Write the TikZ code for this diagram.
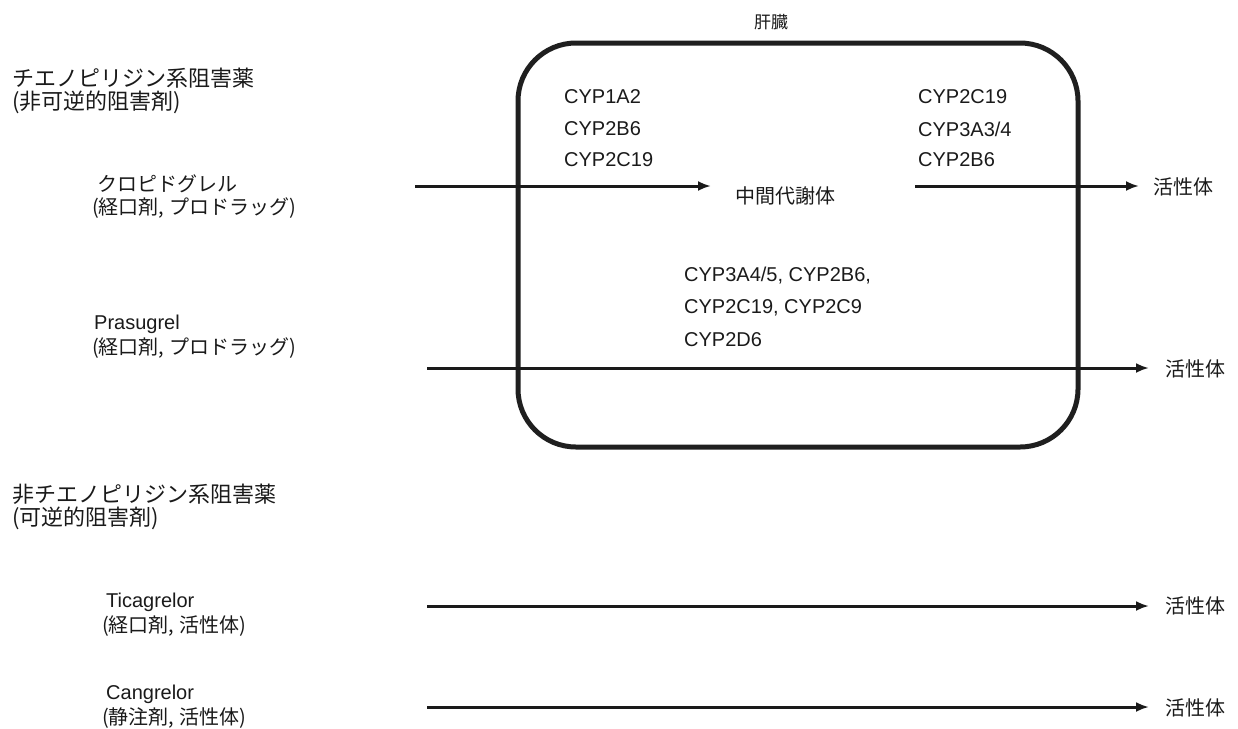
\documentclass[tikz,border=0pt]{standalone}
\usepackage{fontspec}
\setmainfont{Liberation Sans}
\newfontfamily\jpfont{Noto Sans CJK JP}
\usetikzlibrary{arrows.meta}
\definecolor{ink}{HTML}{1A1A1A}
\tikzset{
  lbl/.style={inner sep=0pt, anchor=west, text=ink, font=\jpfont\fontsize{20pt}{24pt}\selectfont},
  head/.style={inner sep=0pt, anchor=west, text=ink, font=\jpfont\fontsize{22pt}{26pt}\selectfont},
  cyp/.style={inner sep=0pt, anchor=west, text=ink, font=\fontsize{20pt}{24pt}\selectfont},
  flow/.style={line width=3pt, draw=ink, -{Latex[length=13pt,width=10pt]}},
  liver/.style={line width=5pt, draw=black!88, rounded corners=58pt}
}
\begin{document}
\begin{tikzpicture}[x=1pt,y=-1pt]
\useasboundingbox (0,0) rectangle (1238,728);
% liver box
\draw[liver] (518,43) rectangle (1078,447);
\node[inner sep=0pt, text=ink, font=\jpfont\fontsize{17pt}{20pt}\selectfont] (liverlbl) at (771,22) {肝臓};
% headings
\node[head] (h1) at (12,78) {チエノピリジン系阻害薬};
\node[head] (h1b) at (12,102) {(非可逆的阻害剤)};
\node[head] (h2) at (12,494) {非チエノピリジン系阻害薬};
\node[head] (h2b) at (12,518) {(可逆的阻害剤)};
% drugs
\node[lbl] (clop) at (97,184) {クロピドグレル};
\node[lbl] (clopb) at (92,208) {(経口剤, プロドラッグ)};
\node[cyp] (pras) at (94,324) {Prasugrel};
\node[lbl] (prasb) at (92,348) {(経口剤, プロドラッグ)};
\node[cyp] (tica) at (106,602) {Ticagrelor};
\node[lbl] (ticab) at (102,626) {(経口剤, 活性体)};
\node[cyp] (cang) at (106,694) {Cangrelor};
\node[lbl] (cangb) at (102,718) {(静注剤, 活性体)};
% CYP labels
\node[cyp] (c1) at (564,97) {CYP1A2};
\node[cyp] (c2) at (564,129) {CYP2B6};
\node[cyp] (c3) at (564,160) {CYP2C19};
\node[cyp] (d1) at (918,97) {CYP2C19};
\node[cyp] (d2) at (918,129) {CYP3A3/4};
\node[cyp] (d3) at (918,160) {CYP2B6};
\node[cyp] (e1) at (684,276) {CYP3A4/5, CYP2B6,};
\node[cyp] (e2) at (684,308) {CYP2C19, CYP2C9};
\node[cyp] (e3) at (684,340) {CYP2D6};
% metabolites
\node[lbl, anchor=center] (mid) at (785,196) {中間代謝体};
\node[lbl] (act1) at (1153,187) {活性体};
\node[lbl] (act2) at (1165,369) {活性体};
\node[lbl] (act3) at (1165,606) {活性体};
\node[lbl] (act4) at (1165,708) {活性体};
% arrow endpoints
\coordinate (s1) at (415,186);
\coordinate (t1) at (711,186);
\coordinate (s2) at (915,186);
\coordinate (s3) at (427,368);
\coordinate (s4) at (427,606);
\coordinate (s5) at (427,707);
\draw[flow] (s1) -- (t1);
\draw[flow] (s2) -- ([xshift=-14pt]act1.west |- s2);
\draw[flow] (s3) -- ([xshift=-16pt]act2.west |- s3);
\draw[flow] (s4) -- ([xshift=-16pt]act3.west |- s4);
\draw[flow] (s5) -- ([xshift=-16pt]act4.west |- s5);
\end{tikzpicture}
\end{document}
